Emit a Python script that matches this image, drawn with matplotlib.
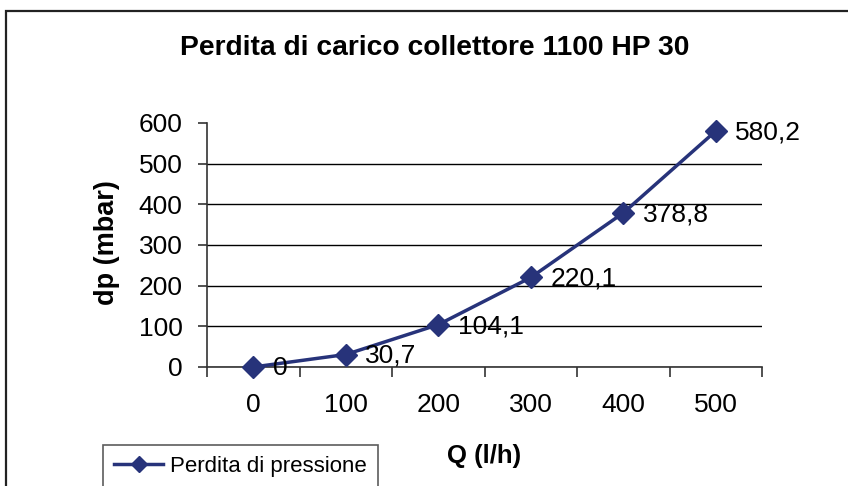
import matplotlib
matplotlib.use("Agg")
import matplotlib.pyplot as plt
from matplotlib.patches import Rectangle
import numpy as np

plt.rcParams['font.family'] = ['Liberation Sans', 'DejaVu Sans']

# data
q_labels = ['0', '100', '200', '300', '400', '500']
dp_values = [0, 30.7, 104.1, 220.1, 378.8, 580.2]
y_ticks = [0, 100, 200, 300, 400, 500, 600]

line_color = '#27337a'
W, H = 848, 486

fig = plt.figure(figsize=(W / 100, H / 100), dpi=100)
ax = fig.add_axes([207 / W, 1 - 367 / H, (762 - 207) / W, (367 - 123) / H])

xs = np.arange(len(q_labels))
line, = ax.plot(xs, dp_values, color=line_color, lw=2.5, marker='D',
                markersize=11, label='Perdita di pressione', zorder=3,
                clip_on=False)

for x, v in zip(xs, dp_values):
    txt = f"{v:g}".replace('.', ',')
    ax.annotate(txt, (x, v), xytext=(14, -1), textcoords='offset points',
                ha='left', va='center', fontsize=19, color='black')

# category axis: labels in the middle, ticks between categories
ax.set_xlim(-0.5, len(q_labels) - 0.5)
ax.set_xticks(xs)
ax.set_xticklabels(q_labels)
ax.set_xticks(np.arange(-0.5, len(q_labels)), minor=True)
ax.tick_params(axis='x', which='major', length=0, pad=19, labelsize=19)
ax.tick_params(axis='x', which='minor', length=7, width=1.2, color='#333333',
               direction='out')

ax.set_ylim(0, 600)
ax.set_yticks(y_ticks)
ax.tick_params(axis='y', length=6.5, width=1.2, color='#333333', pad=11,
               labelsize=19)

ax.grid(axis='y', color='black', lw=1.0)
ax.get_ygridlines()[-1].set_visible(False)
ax.set_axisbelow(True)

for s in ['top', 'right']:
    ax.spines[s].set_visible(False)
for s in ['left', 'bottom']:
    ax.spines[s].set_color('#333333')
    ax.spines[s].set_linewidth(1.2)

fig.text(435 / W, 1 - 55 / H, 'Perdita di carico collettore 1100 HP 30',
         ha='center', va='baseline', fontsize=20.3, fontweight='bold')
fig.text(484 / W, 1 - 463 / H, 'Q (l/h)', ha='center', va='baseline',
         fontsize=18.5, fontweight='bold')
fig.text(107 / W, 1 - 243 / H, 'dp (mbar)', ha='center', va='center',
         rotation=90, fontsize=19.5, fontweight='bold')

leg = fig.legend(handles=[line], loc='upper left',
                 bbox_to_anchor=(103 / W, 1 - 445 / H),
                 bbox_transform=fig.transFigure, borderaxespad=0,
                 fontsize=16, handlelength=2.2, handletextpad=0.3,
                 borderpad=0.5, fancybox=False, markerscale=0.75)
leg.get_frame().set_edgecolor('#333333')
leg.get_frame().set_linewidth(1.2)

# outer chart border (only top and left edges fall inside the picture)
fig.patches.append(Rectangle((5.5 / W, -0.2), 1.5, 1 - 11 / H + 0.2,
                             transform=fig.transFigure, fill=False,
                             edgecolor='#222222', lw=1.6))

fig.savefig('out.png', dpi=100)
